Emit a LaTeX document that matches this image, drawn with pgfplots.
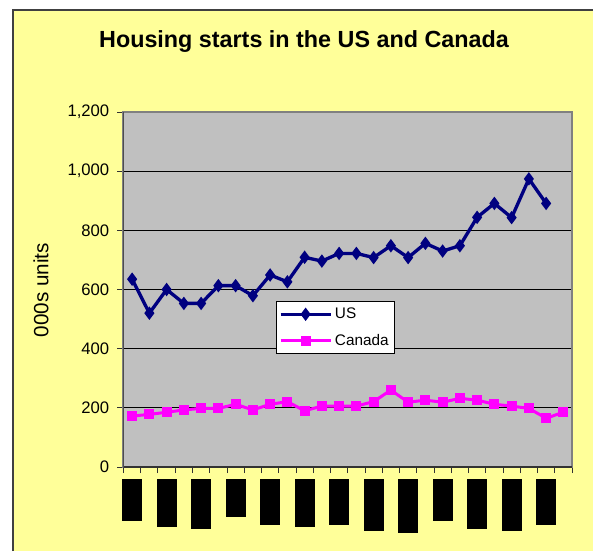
\documentclass[border=0pt]{standalone}
\usepackage{fontspec}
\setmainfont{Liberation Sans}
\usepackage{pgfplots}
\pgfplotsset{compat=1.18}
\definecolor{chartyellow}{HTML}{FFFF99}
\definecolor{plotgray}{HTML}{C0C0C0}
\definecolor{bordergray}{HTML}{808080}
\definecolor{usnavy}{HTML}{000080}
\definecolor{camag}{HTML}{FF00FF}
\begin{document}
\begin{tikzpicture}
\useasboundingbox (0,0) rectangle (444.75pt,-413.25pt);
\fill[white] (0,0) rectangle (444.75pt,-413.25pt);
\fill[chartyellow] (9.375pt,-7.125pt) rectangle (444.75pt,-413.25pt);
\draw[black!75, line width=1.5pt] (9.375pt,-413.25pt) -- (9.375pt,-7.125pt) -- (444.75pt,-7.125pt);
\node[font=\fontsize{17.5}{21}\selectfont\bfseries] at (228pt,-31.5pt) {Housing starts in the US and Canada};
\node[font=\fontsize{15.5}{18}\selectfont, rotate=90] at (30.75pt,-217.5pt) {000s units};
\begin{axis}[
  at={(92.625pt,-350.25pt)}, anchor=south west,
  width=336.375pt, height=266.25pt, scale only axis,
  xmin=0, xmax=26, ymin=0, ymax=1200,
  axis background/.style={fill=plotgray},
  axis line style={draw=bordergray, line width=1.5pt},
  tick align=outside,
  xtick pos=bottom, ytick pos=left,
  tick style={black!80, line width=0.75pt},
  major tick length=4.5pt,
  ytick={0,200,...,1200},
  yticklabel style={font=\fontsize{12.5}{15}\selectfont, inner sep=0pt, xshift=-6pt},
  /pgf/number format/assume math mode=true,
  /pgf/number format/1000 sep={,},
  scaled y ticks=false,
  ymajorgrids,
  major grid style={black, line width=0.75pt},
  xtick={0,1,...,26},
  xticklabels={},
  extra x ticks={0.5,2.5,...,24.5},
  extra x tick labels={\rule{15pt}{31.5pt},\rule{15pt}{36pt},\rule{15pt}{37.5pt},\rule{15pt}{28.5pt},\rule{15pt}{34.5pt},\rule{15pt}{36pt},\rule{15pt}{34.5pt},\rule{15pt}{39pt},\rule{15pt}{40.5pt},\rule{15pt}{31.5pt},\rule{15pt}{37.5pt},\rule{15pt}{39pt},\rule{15pt}{34.5pt}},
  extra x tick style={major tick length=0pt, xticklabel style={anchor=north, inner sep=0pt, yshift=-9pt}},
  legend style={at={(0.340,0.4676)}, anchor=north west, draw=black, fill=white,
    font=\fontsize{11.5}{13}\selectfont, inner xsep=2pt, inner ysep=3pt, row sep=6pt, cells={anchor=west}},
  legend image code/.code={\draw[mark repeat=2,mark phase=2] plot coordinates {(0cm,0cm) (0.66cm,0cm) (1.32cm,0cm)};},
]
\addplot[usnavy, line width=2.5pt, mark=diamond*, mark size=3pt, mark options={solid}] coordinates {
(0.5,635) (1.5,520) (2.5,600) (3.5,553) (4.5,553) (5.5,613) (6.5,613) (7.5,579) (8.5,649) (9.5,626)
(10.5,709) (11.5,696) (12.5,722) (13.5,722) (14.5,708) (15.5,748) (16.5,708) (17.5,756) (18.5,730) (19.5,748)
(20.5,844) (21.5,891) (22.5,843) (23.5,974) (24.5,891)};
\addlegendentry{US}
\addplot[camag, line width=2.25pt, mark=square*, mark size=2.6pt, mark options={solid}] coordinates {
(0.5,172) (1.5,178) (2.5,185) (3.5,193) (4.5,198) (5.5,198) (6.5,212) (7.5,193) (8.5,212) (9.5,221)
(10.5,190) (11.5,206) (12.5,206) (13.5,206) (14.5,221) (15.5,260) (16.5,219) (17.5,226) (18.5,219) (19.5,232)
(20.5,226) (21.5,212) (22.5,206) (23.5,198) (24.5,165) (25.5,185)};
\addlegendentry{Canada}
\draw[black!80, line width=1.2pt] (rel axis cs:0,1) -- (rel axis cs:0,0) -- (rel axis cs:1,0);
\end{axis}
\end{tikzpicture}
\end{document}
